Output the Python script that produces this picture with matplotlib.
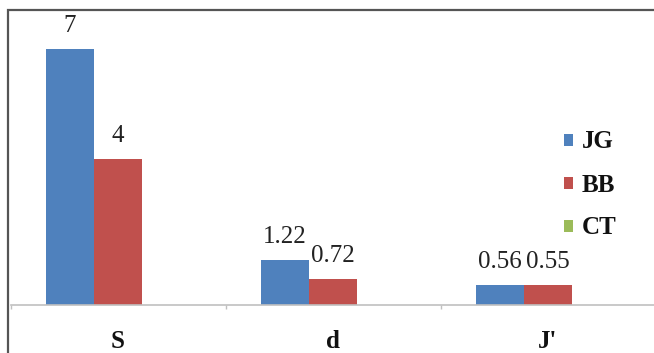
import matplotlib
matplotlib.use("Agg")
import matplotlib.pyplot as plt
from matplotlib.patches import Rectangle
import numpy as np

categories = ["S", "d", "J'"]
series_names = ["JG", "BB", "CT"]
jg_values = [7, 1.22, 0.56]
bb_values = [4, 0.72, 0.55]
ct_values = [0, 0, 0]
label_texts = {
    "JG": ["7", "1.22", "0.56"],
    "BB": ["4", "0.72", "0.55"],
}
colors = ["#4F81BD", "#C0504D", "#9BBB59"]

W, H = 654, 353
fig = plt.figure(figsize=(W / 100, H / 100), dpi=100)
fig.patch.set_facecolor("white")

# plot area in pixel units
left_px, right_px, top_px, base_px = 10.5, 655.5, 10.0, 305.0
ax = fig.add_axes([left_px / W, (H - base_px) / H,
                   (right_px - left_px) / W, (base_px - top_px) / H])
ax.set_facecolor("none")

x = np.arange(len(categories))
bw = 48 / 215
series = [jg_values, bb_values, ct_values]
for k, (name, vals) in enumerate(zip(series_names, series)):
    bars = ax.bar(x + (k - 1) * bw, vals, width=bw, color=colors[k],
                  label=name, linewidth=0)
    if name in label_texts:
        for rect, txt in zip(bars, label_texts[name]):
            ax.annotate(txt, (rect.get_x() + rect.get_width() / 2, rect.get_height()),
                        xytext=(0, 12.2), textcoords="offset points",
                        ha="center", va="baseline", fontsize=18,
                        family="Liberation Serif", color="#222222")

ax.set_xlim(-0.5, 2.5)
ax.set_ylim(0, (base_px - top_px) / 36.6)

for s in ["top", "right", "left"]:
    ax.spines[s].set_visible(False)
ax.spines["bottom"].set_color("#c0c0c0")
ax.spines["bottom"].set_linewidth(1.2)
ax.set_yticks([])

# boundary ticks between categories, labels at category centres
ax.set_xticks([-0.5, 0.5, 1.5, 2.5])
ax.set_xticklabels([])
ax.tick_params(axis="x", which="major", direction="out", length=3,
               color="#c0c0c0", width=1)
ax.set_xticks(x, minor=True)
ax.set_xticklabels(categories, minor=True, fontsize=18, fontweight="bold",
                   family="Liberation Serif", color="#111111")
ax.tick_params(axis="x", which="minor", length=0, pad=18)

leg = ax.legend(loc="center left", bbox_to_anchor=(564 / W, (H - 185) / H),
                bbox_transform=fig.transFigure, frameon=False,
                prop={"family": "Liberation Serif", "weight": "bold", "size": 18},
                handlelength=0.36, handleheight=0.36, handletextpad=0.35,
                labelspacing=0.8, borderpad=0, borderaxespad=0)
for t in leg.get_texts():
    t.set_color("#111111")

# outer chart border (top and left edges visible)
fig.patches.append(Rectangle((8 / W, -0.2), 1.5, (H - 10) / H + 0.2,
                             transform=fig.transFigure, fill=False,
                             edgecolor="#555555", linewidth=1.6, clip_on=False))

fig.savefig("out.png", dpi=100, facecolor="white")
